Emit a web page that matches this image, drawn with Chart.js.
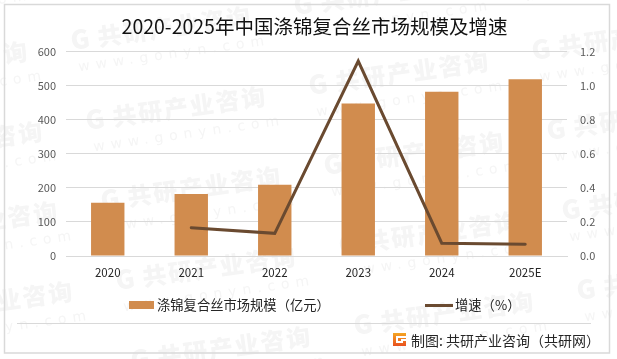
<!DOCTYPE html>
<html>
<head>
<meta charset="utf-8">
<script src="https://cdn.jsdelivr.net/npm/chart.js@4"></script>
<style>
  html, body { margin: 0; padding: 0; background: #fff; }
  #wrap { position: relative; width: 617px; height: 359px; font-family: "Noto Sans CJK SC", sans-serif; }
  #legend span { position: absolute; white-space: nowrap; }
  #legend .txt { font-size: 13.3px; line-height: 18px; top: 296px; color: #262626; }
  #source { position: absolute; left: 411px; top: 331px; font-size: 14px; line-height: 18px; color: #262626; white-space: nowrap; }
</style>
</head>
<body>
<div id="wrap">
  <canvas id="chart" width="617" height="359"></canvas>
  <div id="legend"></div>
  <div id="source">制图: 共研产业咨询（共研网）</div>
</div>
<script>
const titleText = "2020-2025年中国涤锦复合丝市场规模及增速";
const categories = ["2020", "2021", "2022", "2023", "2024", "2025E"];
const marketSize = [156, 182, 209, 447, 482, 518];
const growthRate = [null, 0.166, 0.133, 1.143, 0.075, 0.069];
const barLabel = "涤锦复合丝市场规模（亿元）";
const lineLabel = "增速（%）";
const barColor = "#d18c4e";
const lineColor = "#6a4a30";
const gridColor = "#d9d9d9";

// faint repeating watermark and the outer frame, drawn under the chart
const backdrop = {
    id: "backdrop",
    beforeDraw(chart) {
        const ctx = chart.ctx;
        ctx.save();
        ctx.fillStyle = "#fff";
        ctx.fillRect(0, 0, 617, 359);
        for (let i = -2; i < 4; i++) {
            for (let j = -2; j < 6; j++) {
                const x = 72 + i * 238 + j * 15;
                const y = 50 + i * 45 + j * 80;
                ctx.save();
                ctx.translate(x, y);
                ctx.rotate(-8 * Math.PI / 180);
                ctx.fillStyle = "#f5f5f5";
                ctx.font = "900 26px 'Noto Sans CJK SC'";
                ctx.letterSpacing = "1px";
                ctx.fillText("G", 0, 0);
                ctx.font = "900 24px 'Noto Sans CJK SC'";
                ctx.letterSpacing = "2px";
                ctx.fillText("共研产业咨询", 27, 0);
                ctx.font = "14px 'DejaVu Sans'";
                ctx.letterSpacing = "6px";
                ctx.fillText("www.gonyn.com", 4, 22);
                ctx.restore();
            }
        }
        ctx.restore();
        ctx.strokeStyle = gridColor;
        ctx.lineWidth = 1.5;
        ctx.strokeRect(4.5, 4.5, 605, 348.5);
        ctx.lineWidth = 1;
        ctx.beginPath();
        ctx.moveTo(17, 323.5);
        ctx.lineTo(591, 323.5);
        ctx.stroke();
    },
    afterDraw(chart) {
        // small logo in front of the source line
        const ctx = chart.ctx;
        const g = ctx.createLinearGradient(0, 333, 0, 346);
        g.addColorStop(0, "#f5a623");
        g.addColorStop(1, "#e8501e");
        ctx.fillStyle = g;
        ctx.fillRect(393, 333, 13, 13);
        ctx.fillStyle = "#fff";
        ctx.fillRect(396, 336, 10, 2);
        ctx.fillRect(396, 338, 2, 5);
        ctx.fillRect(398, 341, 5, 2);
        ctx.fillRect(401, 339, 5, 2);
    }
};

new Chart(document.getElementById("chart"), {
    data: {
        labels: categories,
        datasets: [
            { type: "line", label: lineLabel, data: growthRate, yAxisID: "y1", borderColor: lineColor, borderWidth: 3,
              pointRadius: 0, borderCapStyle: "round", borderJoinStyle: "miter", tension: 0, order: 1 },
            { type: "bar", label: barLabel, data: marketSize, yAxisID: "y", backgroundColor: barColor,
              barPercentage: 0.4, categoryPercentage: 1, order: 2 }
        ]
    },
    options: {
        responsive: false,
        animation: false,
        // left padding nudges the centred title over to where the original has it
        layout: { padding: { left: 12, right: 0, top: 6, bottom: 0 } },
        plugins: {
            legend: { display: false },
            tooltip: { enabled: false },
            title: {
                display: true,
                text: titleText,
                color: "#111",
                font: { family: "'Noto Sans CJK SC'", size: 19.5, weight: "normal" },
                padding: { top: 9, bottom: 13 }
            }
        },
        scales: {
            x: {
                grid: { display: false },
                border: { color: gridColor },
                ticks: { color: "#262626", font: { family: "'Noto Sans CJK SC'", size: 11.5 }, padding: 2, maxRotation: 0 },
                afterFit(s) { s.height = 103; }
            },
            y: {
                min: 0, max: 600,
                ticks: { stepSize: 100, color: "#595959", font: { family: "'Noto Sans CJK SC'", size: 11 }, padding: 10 },
                grid: { color: gridColor, drawTicks: false },
                border: { display: false },
                afterFit(s) { s.width = 54; }
            },
            y1: {
                position: "right",
                min: 0, max: 1.2,
                ticks: { stepSize: 0.2, color: "#595959", font: { family: "'Noto Sans CJK SC'", size: 11 }, padding: 5,
                    callback: v => v.toFixed(1) },
                grid: { display: false },
                border: { display: false },
                afterFit(s) { s.width = 50; }
            }
        }
    },
    plugins: [backdrop]
});

// legend is laid out by hand, the two entries sit far apart in the original
const legendEl = document.getElementById("legend");
legendEl.innerHTML = `
    <span style="left:129px;top:301px;width:25px;height:8px;background:${barColor}"></span>
    <span class="txt" style="left:157px">${barLabel}</span>
    <span style="left:425px;top:304px;width:28px;height:3px;background:${lineColor}"></span>
    <span class="txt" style="left:455px">${lineLabel}</span>`;
</script>
</body>
</html>
